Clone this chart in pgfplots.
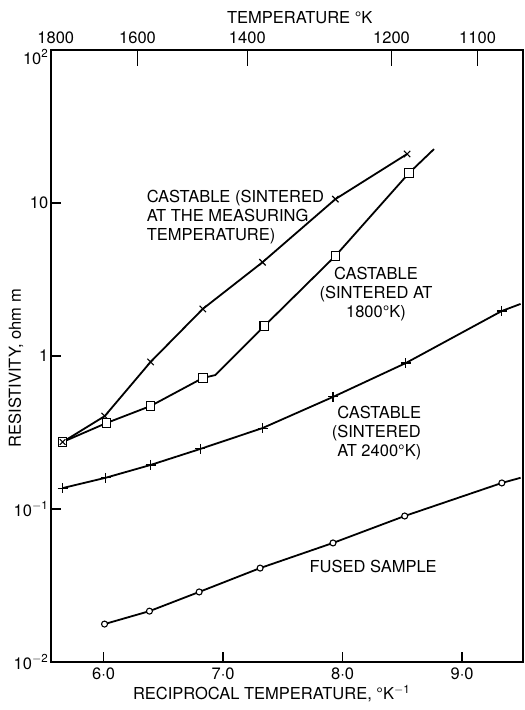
\documentclass[border=0pt]{standalone}
\usepackage{fontspec}
\setmainfont{TeX Gyre Heros}
\usepackage{pgfplots}
\pgfplotsset{compat=1.18}
\begin{document}
\fontsize{16.5}{19}\selectfont
\begin{tikzpicture}[font=\fontsize{16.5}{19}\selectfont]
\begin{axis}[
  scale only axis, width=472pt, height=612pt,
  xmin=5.56, xmax=9.51, ymode=log, ymin=1e-2, ymax=1e2,
  xtick={6,7,8,9}, xticklabels={6·0,7·0,8·0,9·0},
  ytick={0.01,0.1,1,10},
  yticklabels={10\textsuperscript{$-$2},10\textsuperscript{$-$1},1,10},
  extra y ticks={100}, extra y tick labels={10\textsuperscript{2}},
  extra y tick style={yticklabel style={yshift=-7pt}},
  xtick pos=bottom, ytick pos=left,
  tick align=inside, major tick length=10pt, minor tick length=0pt,
  axis line style={line width=1.6pt},
  every tick/.style={line width=1.4pt, black},
  yticklabel style={xshift=3pt},
  xlabel={RECIPROCAL TEMPERATURE, °K\textsuperscript{$-$1}},
  xlabel style={at={(axis description cs:0.4675,-0.062)}, anchor=base},
  ylabel={RESISTIVITY, ohm m},
  ylabel style={at={(axis description cs:-0.0637,0.48)}, anchor=base},
  clip=false,
]
\coordinate (SW) at (rel axis cs:0,0);
% Castable sintered at measuring temperature
\addplot[line width=1.8pt, mark=x, mark size=4.5pt, mark options={line width=1.1pt}]
coordinates {(5.657,0.274) (6.01,0.405) (6.393,0.914) (6.83,2.03) (7.33,4.1) (7.94,10.6) (8.54,20.9)};
% Castable sintered at 1800 K
\addplot[line width=1.8pt, mark=square*, mark size=4.3pt, mark options={fill=white, line width=1.1pt}, mark indices={1,2,3,4,6,7,8}]
coordinates {(5.657,0.274) (6.025,0.365) (6.393,0.471) (6.83,0.718) (6.936,0.751) (7.345,1.57) (7.94,4.51) (8.556,15.7) (8.765,22.5)};
% Castable sintered at 2400 K
\addplot[line width=1.8pt, mark=+, mark size=5pt, mark options={line width=1.1pt}, mark indices={1,2,3,4,5,6,7,8}]
coordinates {(5.657,0.137) (6.017,0.160) (6.393,0.194) (6.81,0.247) (7.33,0.338) (7.92,0.54) (8.53,0.90) (9.333,1.97) (9.49,2.19)};
% Fused sample
\addplot[line width=1.8pt, mark=*, mark size=3pt, mark options={fill=white, line width=1.1pt}, mark indices={1,2,3,4,5,6,7}]
coordinates {(6.008,0.0177) (6.384,0.0215) (6.80,0.0287) (7.31,0.0411) (7.92,0.060) (8.52,0.090) (9.333,0.148) (9.49,0.16)};
% shared starting point (crossed square)
\addplot[only marks, mark=square*, mark size=4.3pt, mark options={fill=white, line width=1.1pt}] coordinates {(5.657,0.274)};
\addplot[only marks, mark=x, mark size=4pt, mark options={line width=1pt}] coordinates {(5.657,0.274)};

\node[anchor=north west, align=left, inner sep=0pt] at (axis cs:6.36,12.2) {CASTABLE (SINTERED\\AT THE MEASURING\\TEMPERATURE)};
\node[anchor=north, align=center, inner sep=0pt] at (axis cs:8.28,3.82) {CASTABLE\\(SINTERED AT\\1800°K)};
\node[anchor=north west, align=left, inner sep=0pt] at (axis cs:7.955,0.471) {CASTABLE\\\llap{(}SINTERED\\AT 2400°K)};
\node[inner sep=0pt] at (axis cs:8.256,0.0424) {FUSED SAMPLE};
\end{axis}
\begin{axis}[
  scale only axis, width=472pt, height=612pt,
  xmin=5.56, xmax=9.51, ymin=0, ymax=1,
  axis x line*=top, axis y line=none,
  axis line style={-, line width=1.6pt},
  xtick={6.284,7.203,8.41,9.13},
  xticklabels={1600,1400,1200,1100},
  extra x ticks={5.6}, extra x tick labels={1800},
  extra x tick style={major tick length=0pt},
  tick align=inside, major tick length=16pt,
  every tick/.style={line width=1.4pt, black},
  xticklabel style={yshift=1pt},
  xlabel={TEMPERATURE °K},
  xlabel style={at={(axis description cs:0.527,1.044)}, anchor=base},
]
\end{axis}
\path (SW) ++(-51pt,-48pt) rectangle ++(525pt,710pt);
\end{tikzpicture}
\end{document}
